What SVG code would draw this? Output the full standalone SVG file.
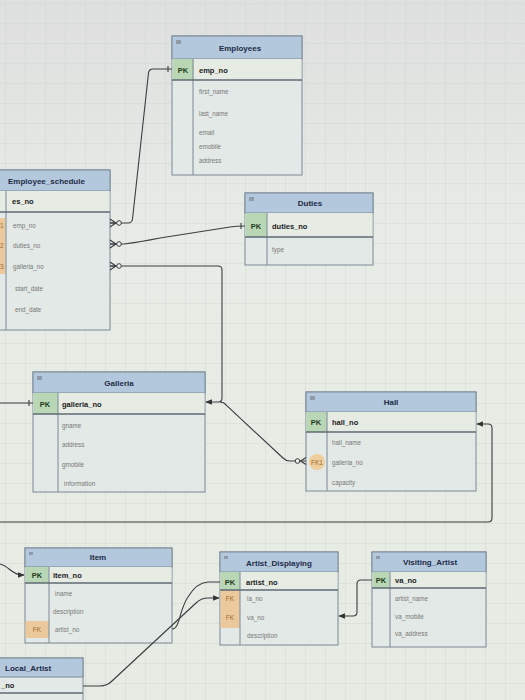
<svg xmlns="http://www.w3.org/2000/svg" width="525" height="700" viewBox="0 0 525 700">
<defs>
<pattern id="grid" width="20" height="20" patternUnits="userSpaceOnUse" x="5" y="3">
<path d="M20 0 L0 0 0 20" fill="none" stroke="#cdd4cd" stroke-width="0.8"/>
</pattern>
<marker id="arr" viewBox="0 0 10 10" refX="9" refY="5" markerWidth="6" markerHeight="6" orient="auto-start-reverse">
<path d="M0,1 L10,5 L0,9 z" fill="#333"/>
</marker>
<linearGradient id="bg" x1="0" y1="0" x2="0" y2="1">
<stop offset="0" stop-color="#dedfdf"/>
<stop offset="0.35" stop-color="#e8ece6"/>
<stop offset="1" stop-color="#e6ebe3"/>
</linearGradient>
</defs>
<style>
.box{fill:#e3e9e6;stroke:#7b8896;stroke-width:1}
.hdr{fill:#b3c8dc;stroke:#7b8896;stroke-width:1}
.pkrow{fill:#e6ebe4}
.pkc{fill:#b9d6b5}
.fkc{fill:#ecc99d}
.sep{stroke:#5e6a74;stroke-width:1.6}
.div{stroke:#7b8896;stroke-width:1}
.t{font-family:"Liberation Sans",Arial,sans-serif;font-size:8px;font-weight:bold;fill:#1e2b48}
.k{font-family:"Liberation Sans",Arial,sans-serif;font-size:7.5px;font-weight:bold;fill:#1f3a1f}
.fk{font-family:"Liberation Sans",Arial,sans-serif;font-size:6.5px;fill:#9a6a30}
.p{font-family:"Liberation Sans",Arial,sans-serif;font-size:7.5px;font-weight:bold;fill:#1a1a1a}
.f{font-family:"Liberation Sans",Arial,sans-serif;font-size:6.3px;fill:#777}
.ic{fill:#8e9aa8}
.c{fill:none;stroke:#3a3d40;stroke-width:1.1}
.ci{fill:#eef0ee;stroke:#3a3d40;stroke-width:1}
</style>
<rect width="525" height="700" fill="url(#bg)"/>
<rect width="525" height="700" fill="url(#grid)"/>

<g id="Employees">
<rect class="box" x="172" y="36" width="130" height="139"/>
<rect class="hdr" x="172" y="36" width="130" height="23"/>
<rect class="ic" x="176" y="40" width="5" height="4"/>
<rect class="pkrow" x="172.5" y="59" width="129" height="21"/>
<rect class="pkc" x="172.5" y="59" width="21" height="21"/>
<line class="div" x1="193" y1="59" x2="193" y2="175"/>
<line class="sep" x1="172" y1="80" x2="302" y2="80"/>
<text class="t" x="240" y="51" text-anchor="middle">Employees</text>
<text class="k" x="183" y="73" text-anchor="middle">PK</text>
<text class="p" x="199" y="73">emp_no</text>
<text class="f" x="199" y="94">first_name</text>
<text class="f" x="199" y="116">last_name</text>
<text class="f" x="199" y="135">email</text>
<text class="f" x="199" y="149">emobile</text>
<text class="f" x="199" y="163">address</text>
</g>

<g id="Employee_schedule">
<rect class="box" x="-2" y="170" width="112" height="160"/>
<rect class="hdr" x="-2" y="170" width="112" height="21"/>
<rect class="pkrow" x="-1.5" y="191" width="111" height="21"/>
<rect class="fkc" x="-1.5" y="218" width="7" height="56"/>
<line class="div" x1="6" y1="191" x2="6" y2="330"/>
<line class="sep" x1="-2" y1="212" x2="110" y2="212"/>
<text class="t" x="8" y="184">Employee_schedule</text>
<text class="p" x="12" y="204">es_no</text>
<text class="fk" x="0" y="228">1</text>
<text class="fk" x="0" y="248">2</text>
<text class="fk" x="0" y="269">3</text>
<text class="f" x="13" y="228">emp_no</text>
<text class="f" x="13" y="248">duties_no</text>
<text class="f" x="13" y="269">galleria_no</text>
<text class="f" x="15" y="291">start_date</text>
<text class="f" x="15" y="312">end_date</text>
</g>

<g id="Duties">
<rect class="box" x="245" y="193" width="128" height="72"/>
<rect class="hdr" x="245" y="193" width="128" height="20"/>
<rect class="ic" x="249" y="197" width="5" height="4"/>
<rect class="pkrow" x="245.5" y="213" width="127" height="24"/>
<rect class="pkc" x="245.5" y="213" width="21.5" height="24"/>
<line class="div" x1="267" y1="213" x2="267" y2="265"/>
<line class="sep" x1="245" y1="237" x2="373" y2="237"/>
<text class="t" x="310" y="206" text-anchor="middle">Duties</text>
<text class="k" x="256" y="229" text-anchor="middle">PK</text>
<text class="p" x="272" y="229">duties_no</text>
<text class="f" x="272" y="252">type</text>
</g>

<g id="Galleria">
<rect class="box" x="33" y="372" width="172" height="120"/>
<rect class="hdr" x="33" y="372" width="172" height="21"/>
<rect class="ic" x="37" y="376" width="5" height="4"/>
<rect class="pkrow" x="33.5" y="393" width="171" height="21"/>
<rect class="pkc" x="33.5" y="393" width="24.5" height="21"/>
<line class="div" x1="58" y1="393" x2="58" y2="492"/>
<line class="sep" x1="33" y1="414" x2="205" y2="414"/>
<text class="t" x="119" y="386" text-anchor="middle">Galleria</text>
<text class="k" x="45" y="407" text-anchor="middle">PK</text>
<text class="p" x="62" y="407">galleria_no</text>
<text class="f" x="62" y="428">gname</text>
<text class="f" x="62" y="447">address</text>
<text class="f" x="62" y="467">gmobile</text>
<text class="f" x="64" y="486">information</text>
</g>

<g id="Hall">
<rect class="box" x="306" y="392" width="170" height="99"/>
<rect class="hdr" x="306" y="392" width="170" height="20"/>
<rect class="ic" x="310" y="396" width="5" height="4"/>
<rect class="pkrow" x="306.5" y="412" width="169" height="20"/>
<rect class="pkc" x="306.5" y="412" width="20.5" height="20"/>
<circle cx="317" cy="462" r="8" fill="#f0c98f" opacity="0.85"/>
<line class="div" x1="327" y1="412" x2="327" y2="491"/>
<line class="sep" x1="306" y1="432" x2="476" y2="432"/>
<text class="t" x="391" y="405" text-anchor="middle">Hall</text>
<text class="k" x="316" y="425" text-anchor="middle">PK</text>
<text class="p" x="332" y="425">hall_no</text>
<text class="f" x="332" y="445">hall_name</text>
<text class="fk" x="317" y="465" text-anchor="middle">FK1</text>
<text class="f" x="332" y="465">galleria_no</text>
<text class="f" x="332" y="485">capacity</text>
</g>

<g id="Item">
<rect class="box" x="25" y="548" width="147" height="95"/>
<rect class="hdr" x="25" y="548" width="147" height="19"/>
<rect class="ic" x="29" y="552" width="4" height="3"/>
<rect class="pkrow" x="25.5" y="567" width="146" height="16"/>
<rect class="pkc" x="25.5" y="567" width="23.5" height="16"/>
<rect class="fkc" x="25.5" y="621" width="23.5" height="17"/>
<line class="div" x1="49" y1="567" x2="49" y2="643"/>
<line class="sep" x1="25" y1="583" x2="172" y2="583"/>
<text class="t" x="98" y="560" text-anchor="middle">Item</text>
<text class="k" x="37" y="578" text-anchor="middle">PK</text>
<text class="p" x="53" y="578">item_no</text>
<text class="f" x="55" y="596">iname</text>
<text class="f" x="53" y="614">description</text>
<text class="fk" x="37" y="632" text-anchor="middle">FK</text>
<text class="f" x="55" y="632">artist_no</text>
</g>

<g id="Local_Artist">
<rect class="box" x="-2" y="658" width="85" height="50"/>
<rect class="hdr" x="-2" y="658" width="85" height="19"/>
<line class="sep" x1="-2" y1="693" x2="83" y2="693"/>
<text class="t" x="5" y="671">Local_Artist</text>
<text class="p" x="1" y="688">_no</text>
</g>

<g id="Artist_Displaying">
<rect class="box" x="220" y="552" width="118" height="93"/>
<rect class="hdr" x="220" y="552" width="118" height="20"/>
<rect class="ic" x="224" y="556" width="4" height="3"/>
<rect class="pkrow" x="220.5" y="572" width="117" height="18"/>
<rect class="pkc" x="220.5" y="572" width="19.5" height="18"/>
<rect class="fkc" x="220.5" y="590" width="19.5" height="38"/>
<line class="div" x1="240" y1="572" x2="240" y2="645"/>
<line class="sep" x1="220" y1="590" x2="338" y2="590"/>
<text class="t" x="279" y="566" text-anchor="middle">Artist_Displaying</text>
<text class="k" x="230" y="585" text-anchor="middle">PK</text>
<text class="p" x="246" y="585">artist_no</text>
<text class="fk" x="230" y="601" text-anchor="middle">FK</text>
<text class="f" x="247" y="601">la_no</text>
<text class="fk" x="230" y="620" text-anchor="middle">FK</text>
<text class="f" x="247" y="620">va_no</text>
<text class="f" x="247" y="638">description</text>
</g>

<g id="Visiting_Artist">
<rect class="box" x="372" y="552" width="114" height="95"/>
<rect class="hdr" x="372" y="552" width="114" height="20"/>
<rect class="ic" x="376" y="556" width="4" height="3"/>
<rect class="pkrow" x="372.5" y="572" width="113" height="16"/>
<rect class="pkc" x="372.5" y="572" width="17.5" height="16"/>
<line class="div" x1="390" y1="572" x2="390" y2="647"/>
<line class="sep" x1="372" y1="588" x2="486" y2="588"/>
<text class="t" x="430" y="565" text-anchor="middle">Visiting_Artist</text>
<text class="k" x="381" y="583" text-anchor="middle">PK</text>
<text class="p" x="395" y="583">va_no</text>
<text class="f" x="395" y="601">artist_name</text>
<text class="f" x="395" y="619">va_mobile</text>
<text class="f" x="395" y="636">va_address</text>
</g>

<g id="connectors">
<!-- es.emp_no to Employees.emp_no -->
<path class="c" d="M110,223 L128,223 Q132,223 132.5,219 L148.5,73 Q149,69 153,69 L172,69"/>
<path class="c" d="M110,219 L116,223 L110,227 M110,223 L116,223 M168,66 L168,72"/>
<circle class="ci" cx="119" cy="223" r="2.3"/>
<!-- es.duties_no to Duties.duties_no -->
<path class="c" d="M110,244 L124,244 Q140,242 160,238 L230,227 Q236,226 245,226"/>
<path class="c" d="M110,240 L116,244 L110,248 M110,244 L116,244 M241,223 L241,229"/>
<circle class="ci" cx="119" cy="244" r="2.3"/>
<!-- es.galleria_no to Galleria right -->
<path class="c" d="M110,266 L218,266 Q222,266 222,270 L222,398 Q222,402 218,402 L206,402" marker-end="url(#arr)"/>
<path class="c" d="M110,262 L116,266 L110,270 M110,266 L116,266"/>
<circle class="ci" cx="119" cy="266" r="2.3"/>
<!-- Hall.FK1 galleria_no to Galleria -->
<path class="c" d="M306,461 L290,461 Q286,461 283,458 L226,405 Q224,402 220,402"/>
<path class="c" d="M306,457.5 L300.5,461 L306,464.5"/>
<circle class="ci" cx="297.5" cy="461" r="2.3"/>
<!-- Galleria PK from left -->
<path class="c" d="M0,403 L33,403 M29,400 L29,406"/>
<!-- loop to Hall PK -->
<path class="c" d="M0,522 L488,522 Q492,522 492,518 L492,428 Q492,424 488,424 L477,424" marker-end="url(#arr)"/>
<!-- Item PK from left -->
<path class="c" d="M0,564 C9,566 12,575 22,575 L24,575" marker-end="url(#arr)"/>
<!-- Item FK artist_no to Artist_Displaying PK -->
<path class="c" d="M172,629 C180,629 179,610 188,597 Q196,583 208,582 L220,582"/>
<!-- Local_Artist la_no to Artist_Displaying la_no -->
<path class="c" d="M83,686 L100,686 Q107,686 112,681 L196,603 Q201,598 208,598 L219,598" marker-end="url(#arr)"/>
<!-- Visiting_Artist va_no to Artist_Displaying va_no -->
<path class="c" d="M372,580 L361,580 Q357,580 357,584 L357,612 Q357,616 353,616 L339,616" marker-end="url(#arr)"/>
</g>
</svg>
